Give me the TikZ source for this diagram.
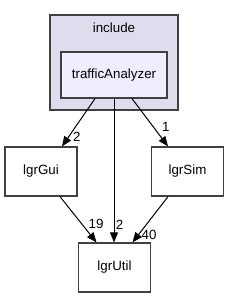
\documentclass[tikz,border=0pt]{standalone}
\usepackage{fontspec}
\setmainfont{Liberation Sans}
\definecolor{clusterfill}{RGB}{221,221,238}
\definecolor{dirfill}{RGB}{238,238,255}
\definecolor{boxline}{RGB}{64,64,64}
\usetikzlibrary{arrows.meta,positioning}

\begin{document}
\begin{tikzpicture}[x=0.75pt,y=-0.75pt,font=\fontsize{10}{12}\selectfont,
  dirbox/.style={draw=boxline,line width=0.9pt,fill=white,minimum width=54pt,minimum height=36.75pt,inner sep=0pt},
  dep/.style={line width=0.75pt,-{Triangle[length=7.5pt,width=6pt]}},
  lbl/.style={inner sep=1pt}]
\useasboundingbox (0,0) rectangle (229,297);
% include cluster
\draw[draw=boxline,line width=0.9pt,fill=clusterfill] (50,15) rectangle (178,110);
\node (incl) at (114,28) {include};
\node[dirbox,fill=dirfill,minimum width=79.5pt,minimum height=34.5pt] (ta) at (114,75) {trafficAnalyzer};
% directories
\node[dirbox] (gui) at (41,171.5) {lgrGui};
\node[dirbox] (sim) at (187.5,171.5) {lgrSim};
\node[dirbox] (util) at (114.5,267.5) {lgrUtil};
% dependencies
\draw[dep] ([xshift=-14.25pt]ta.south) -- node[lbl,pos=0.8,right=2pt]{2} ([xshift=15.75pt]gui.north);
\draw[dep] ([xshift=13.5pt]ta.south) -- node[lbl,pos=0.6,right=5pt]{1} ([xshift=-14.6pt]sim.north);
\draw[dep] (ta.south) -- node[lbl,pos=0.875,right]{2} (ta.south |- util.north);
\draw[dep] ([xshift=14.25pt]gui.south) -- node[lbl,pos=0.59,right=4pt]{19} ([xshift=-13.5pt]util.north);
\draw[dep] ([xshift=-14.6pt]sim.south) -- node[lbl,pos=0.83,right=1pt]{40} ([xshift=13.5pt]util.north);
\end{tikzpicture}
\end{document}
